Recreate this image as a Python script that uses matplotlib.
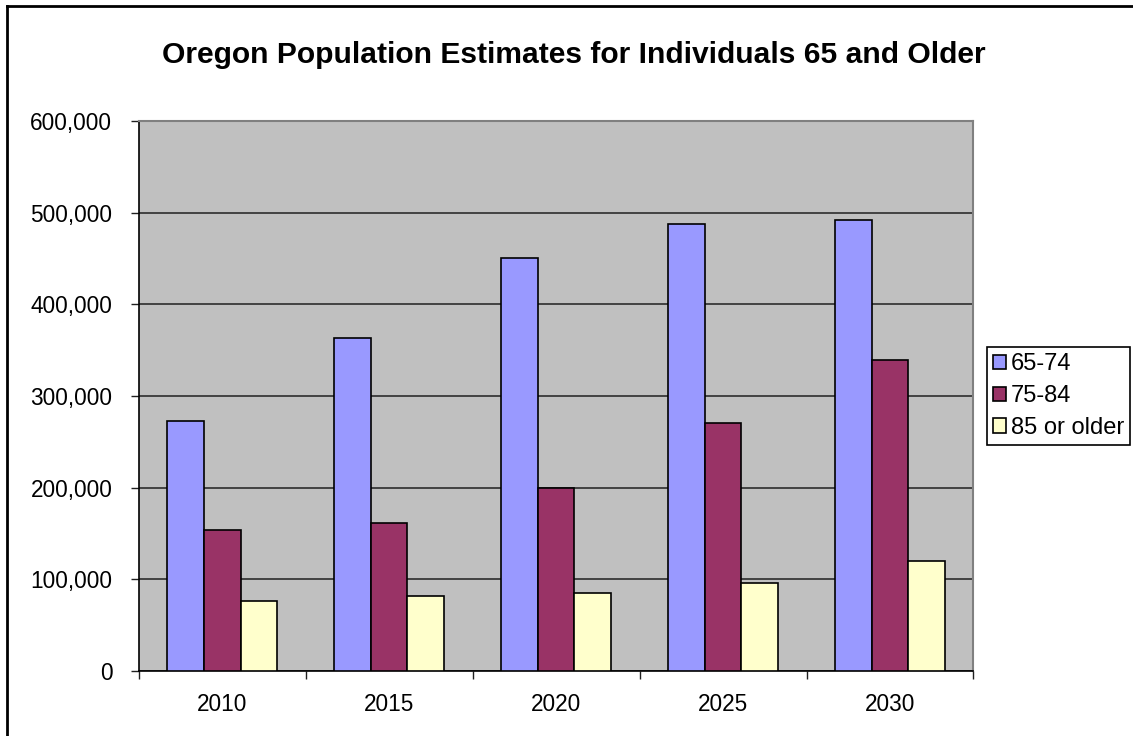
import numpy as np
import matplotlib
matplotlib.use("Agg")
from matplotlib import pyplot as plt
from matplotlib.lines import Line2D
from matplotlib.ticker import FuncFormatter, MultipleLocator

plt.rcParams['font.family'] = ['Liberation Sans', 'DejaVu Sans']

years = ['2010', '2015', '2020', '2025', '2030']
age_65_74 = [273000, 363300, 450200, 488000, 491600]
age_75_84 = [153500, 161800, 199300, 270500, 339600]
age_85_up = [76700, 81800, 85400, 96400, 120400]
series_names = ['65-74', '75-84', '85 or older']
series_colors = ['#9999FF', '#993366', '#FFFFCC']

fig = plt.figure(figsize=(11.33, 7.36), dpi=100)
ax = fig.add_axes([0.1224, 0.0883, 0.7368, 0.7473])
ax.set_facecolor('#C0C0C0')

x = np.arange(len(years))
w = 0.22
for i, (vals, name, col) in enumerate(zip([age_65_74, age_75_84, age_85_up], series_names, series_colors)):
    ax.bar(x + (i - 1) * w, vals, width=w, color=col, edgecolor='black',
           linewidth=1.2, label=name, zorder=3)

ax.set_xlim(-0.5, len(years) - 0.5)
ax.set_ylim(0, 600000)
ax.yaxis.set_major_locator(MultipleLocator(100000))
ax.yaxis.set_major_formatter(FuncFormatter(lambda v, p: f'{int(v):,}'))
ax.grid(axis='y', color='#202020', linewidth=1.1, zorder=1)

ax.set_xticks(x)
ax.set_xticklabels(years)
ax.set_xticks(np.arange(-0.5, len(years)), minor=True)
ax.tick_params(axis='x', which='major', length=0, pad=16, labelsize=16.3)
ax.tick_params(axis='x', which='minor', length=6, width=1, color='#202020', direction='out')
ax.tick_params(axis='y', length=6, width=1, color='#202020', pad=13, labelsize=16.3)

for s in ['top', 'right']:
    ax.spines[s].set_color('#808080')
    ax.spines[s].set_linewidth(1.5)
for s in ['left', 'bottom']:
    ax.spines[s].set_color('black')
    ax.spines[s].set_linewidth(1.2)

fig.text(0.5066, 1 - 55 / 736, 'Oregon Population Estimates for Individuals 65 and Older',
         ha='center', va='center', fontsize=21.6, fontweight='bold')

leg = ax.legend(loc='center left', bbox_to_anchor=(987 / 1133, 1 - 396 / 736),
                bbox_transform=fig.transFigure, fontsize=17, frameon=True,
                fancybox=False, framealpha=1, edgecolor='black',
                handlelength=0.55, handleheight=0.55, handletextpad=0.2,
                borderpad=0.25, labelspacing=0.42, borderaxespad=0)
leg.get_frame().set_linewidth(1.2)

# outer chart border (left and top edges visible)
fig.add_artist(Line2D([6.5 / 1133, 6.5 / 1133], [0, 1 - 5.5 / 736], color='black',
                      linewidth=2, transform=fig.transFigure))
fig.add_artist(Line2D([6.5 / 1133, 1], [1 - 5.5 / 736, 1 - 5.5 / 736], color='black',
                      linewidth=2, transform=fig.transFigure))

fig.savefig('out.png', dpi=100)
